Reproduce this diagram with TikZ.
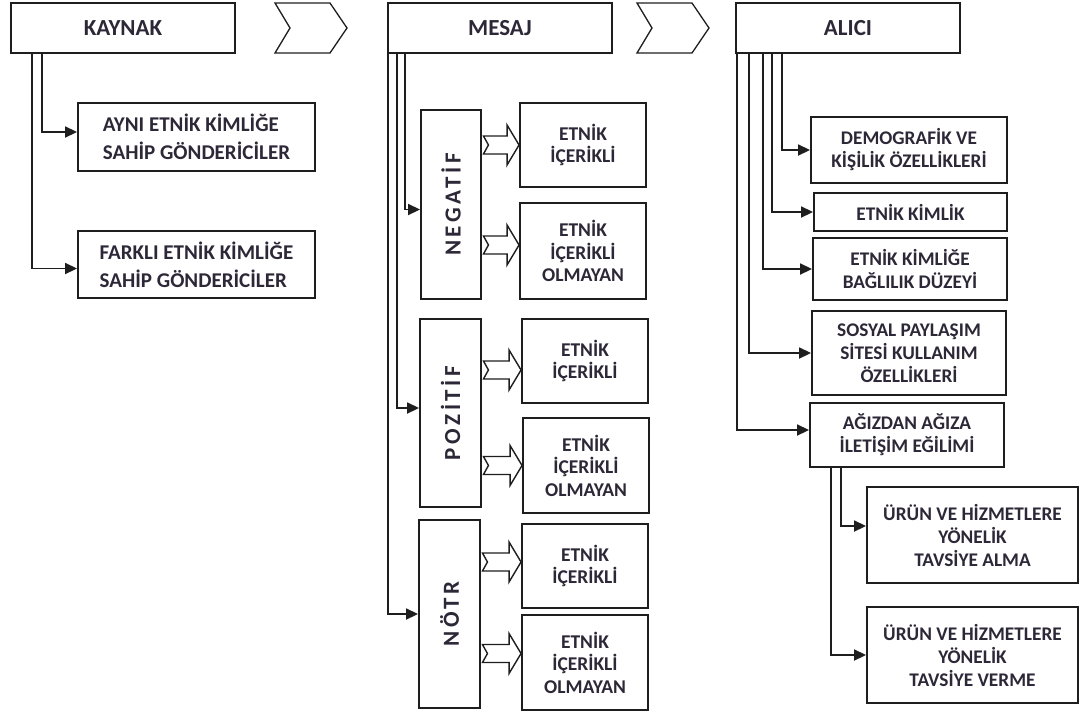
\documentclass[tikz,border=0pt]{standalone}
\usepackage{fontspec}
\setmainfont{Carlito}
\usetikzlibrary{arrows.meta,calc}
\definecolor{txt}{RGB}{45,40,55}
\definecolor{linec}{RGB}{30,30,30}
\newcommand{\dartarrow}[3][0]{%
  \coordinate (dt) at ($(#2.east |- #3.west)+(1.5,#1)$);
  \coordinate (dh) at ($(#3.west)+(0,#1)$);
  \draw[dart] ($(dt)+(0,-9)$) -- ($(dh)+(-12,-9)$) -- ($(dh)+(-12,-20)$) -- (dh)
    -- ($(dh)+(-12,20)$) -- ($(dh)+(-12,9)$) -- ($(dt)+(0,9)$) -- ($(dt)+(5,0)$) -- cycle;}
\newcommand{\vlabel}[1]{\rotatebox{90}{\addfontfeature{LetterSpace=16}#1}}

\begin{document}
\begin{tikzpicture}[x=1pt,y=-1pt,
  box/.style={draw=linec,line width=1.9pt,fill=white,inner sep=2pt,align=center,text=txt},
  head/.style={box,minimum width=224pt,minimum height=50pt,font=\bfseries\fontsize{23}{27}\selectfont},
  src/.style={box,align=left,minimum width=237pt,minimum height=67pt,font=\bfseries\fontsize{21}{28}\selectfont},
  tone/.style={box,minimum width=61pt,minimum height=188pt,font=\bfseries\fontsize{23}{28}\selectfont},
  msg/.style={box,minimum width=126pt,font=\bfseries\fontsize{19.5}{22.5}\selectfont},
  rcv/.style={box,font=\bfseries\fontsize{19.3}{23}\selectfont},
  conn/.style={draw=linec,line width=1.8pt,-{Triangle[length=12pt,width=11pt]}},
  dart/.style={draw=linec,line width=1.4pt,fill=white,line join=miter},
  chev/.style={draw=linec,line width=1.3pt,line join=miter}]
\useasboundingbox (0,0) rectangle (1080,713);

\node[head] (kaynak) at (123,28) {KAYNAK};
\node[head] (mesaj) at (500,28) {MESAJ};
\node[head] (alici) at (848,28) {ALICI};
\foreach \cx in {275,637}
  \draw[chev] (\cx,3) -- ++(55,0) -- ++(17,25) -- ++(-17,25) -- ++(-55,0) -- ++(15,-25) -- cycle;

% kaynak
\node[src,minimum height=68pt] (ayni) at (196.5,137) {AYNI ETNİK KİMLİĞE\\SAHİP GÖNDERİCİLER};
\node[src] (farkli) at (196.5,264.5) {FARKLI ETNİK KİMLİĞE\\SAHİP GÖNDERİCİLER};
\draw[conn] ([xshift=32pt]kaynak.south west) |- ([yshift=5pt]ayni.west);
\draw[conn] ([xshift=22pt]kaynak.south west) |- ([yshift=-4pt]farkli.west);

% mesaj
\node[tone,minimum width=60pt,minimum height=189pt] (neg) at (451,204.5) {\vlabel{NEGATİF}};
\node[tone] (poz) at (450.5,413) {\vlabel{POZİTİF}};
\node[tone] (notr) at (449.5,614) {\vlabel{NÖTR}};
\node[msg,minimum height=84pt] (e1) at (583,145) {ETNİK\\İÇERİKLİ};
\node[msg,minimum height=96pt] (o1) at (583,251) {ETNİK\\İÇERİKLİ\\OLMAYAN};
\node[msg,minimum height=84pt] (e2) at (585,361) {ETNİK\\İÇERİKLİ};
\node[msg,minimum height=95pt] (o2) at (586,465.5) {ETNİK\\İÇERİKLİ\\OLMAYAN};
\node[msg,minimum height=84pt] (e3) at (585,566) {ETNİK\\İÇERİKLİ};
\node[msg,minimum height=95pt] (o3) at (585,662.5) {ETNİK\\İÇERİKLİ\\OLMAYAN};
\draw[conn] ([xshift=18pt]mesaj.south west) |- ([yshift=-5pt]neg.west);
\draw[conn] ([xshift=10pt]mesaj.south west) |- ([yshift=5pt]poz.west);
\draw[conn] ([xshift=1pt]mesaj.south west) |- (notr.west);
\dartarrow{neg}{e1}
\dartarrow[-6]{neg}{o1}
\dartarrow[9]{poz}{e2}
\dartarrow{poz}{o2}
\dartarrow[-4]{notr}{e3}
\dartarrow[-9]{notr}{o3}

% alici
\node[rcv,minimum width=196pt,minimum height=66pt] (demo) at (909,150) {DEMOGRAFİK VE\\KİŞİLİK ÖZELLİKLERİ};
\node[rcv,minimum width=193pt,minimum height=38pt] (ekim) at (910.5,212) {ETNİK KİMLİK};
\node[rcv,minimum width=194pt,minimum height=62pt] (bagl) at (910,269) {ETNİK KİMLİĞE\\BAĞLILIK DÜZEYİ};
\node[rcv,minimum width=194pt,minimum height=84pt] (sosyal) at (909,353) {SOSYAL PAYLAŞIM\\SİTESİ KULLANIM\\ÖZELLİKLERİ};
\node[rcv,minimum width=194pt,minimum height=64pt] (agiz) at (907,435) {AĞIZDAN AĞIZA\\İLETİŞİM EĞİLİMİ};
\node[rcv,minimum width=211pt,minimum height=96pt] (alma) at (972.5,535) {ÜRÜN VE HİZMETLERE\\YÖNELİK\\TAVSİYE ALMA};
\node[rcv,minimum width=211pt,minimum height=96pt] (verme) at (972.5,655) {ÜRÜN VE HİZMETLERE\\YÖNELİK\\TAVSİYE VERME};
\draw[conn] ([xshift=47pt]alici.south west) |- (demo.west);
\draw[conn] ([xshift=37pt]alici.south west) |- (ekim.west);
\draw[conn] ([xshift=28pt]alici.south west) |- (bagl.west);
\draw[conn] ([xshift=14pt]alici.south west) |- (sosyal.west);
\draw[conn] ([xshift=2pt]alici.south west) |- ([yshift=5pt]agiz.west);
\draw[conn] ([xshift=32pt]agiz.south west) |- ([yshift=9pt]alma.west);
\draw[conn] ([xshift=22pt]agiz.south west) |- (verme.west);
\end{tikzpicture}
\end{document}
